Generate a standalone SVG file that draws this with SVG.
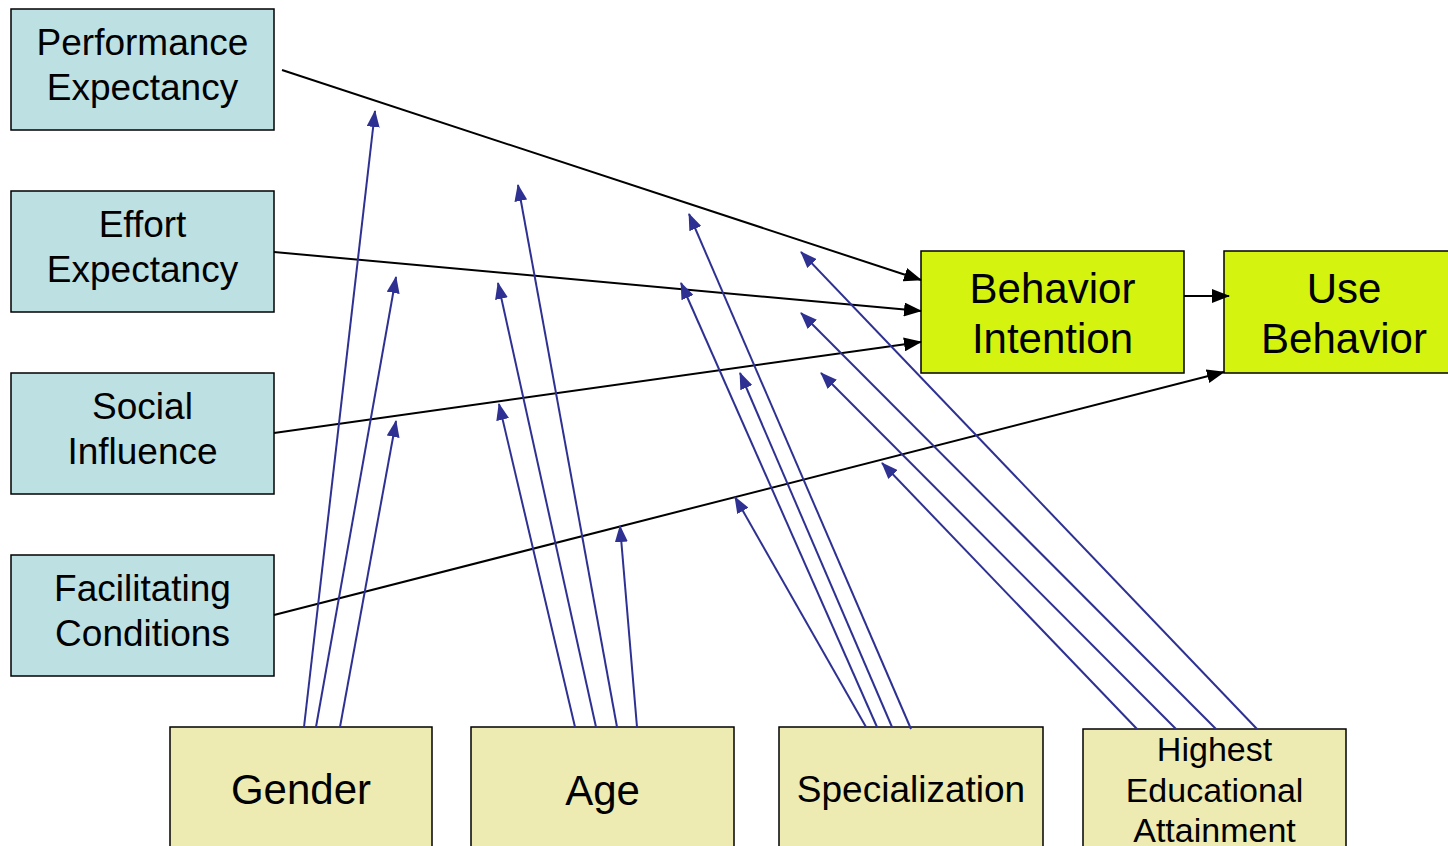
<svg xmlns="http://www.w3.org/2000/svg" width="1448" height="846" viewBox="0 0 1448 846">
<style>
.c{fill:#BDE1E3;stroke:#000;stroke-width:1.5}
.g{fill:#D4F410;stroke:#000;stroke-width:1.5}
.m{fill:#EDEBB1;stroke:#000;stroke-width:1.5}
text{font-family:"Liberation Sans",Arial,sans-serif;fill:#000;text-anchor:middle}
.k{stroke:#000;stroke-width:2;fill:none;marker-end:url(#ak)}
.b{stroke:#2E3192;stroke-width:2;fill:none;marker-end:url(#ab)}
</style>
<defs>
<marker id="ak" viewBox="0 0 18 14" refX="17" refY="7" markerWidth="18" markerHeight="14" markerUnits="userSpaceOnUse" orient="auto"><path d="M0,0 L18,7 L0,14 Z" fill="#000"/></marker>
<marker id="ab" viewBox="0 0 17 13" refX="16" refY="6.5" markerWidth="17" markerHeight="13" markerUnits="userSpaceOnUse" orient="auto"><path d="M0,0 L17,6.5 L0,13 Z" fill="#2E3192"/></marker>
</defs>
<rect width="1448" height="846" fill="#fff"/>
<g id="pe"><rect class="c" x="11" y="9" width="263" height="121"/><text font-size="37" x="142.5" y="55">Performance</text><text font-size="37" x="142.5" y="100">Expectancy</text></g>
<g id="ee"><rect class="c" x="11" y="191" width="263" height="121"/><text font-size="37" x="142.5" y="237">Effort</text><text font-size="37" x="142.5" y="282">Expectancy</text></g>
<g id="si"><rect class="c" x="11" y="373" width="263" height="121"/><text font-size="37" x="142.5" y="419">Social</text><text font-size="37" x="142.5" y="464">Influence</text></g>
<g id="fc"><rect class="c" x="11" y="555" width="263" height="121"/><text font-size="37" x="142.5" y="601">Facilitating</text><text font-size="37" x="142.5" y="646">Conditions</text></g>
<g id="bi"><rect class="g" x="921" y="251" width="263" height="122"/><text font-size="42" x="1052.5" y="303">Behavior</text><text font-size="42" x="1052.5" y="353">Intention</text></g>
<g id="ub"><rect class="g" x="1224" y="251" width="240" height="122"/><text font-size="42" x="1344" y="303">Use</text><text font-size="42" x="1344" y="353">Behavior</text></g>
<g id="gender"><rect class="m" x="170" y="727" width="262" height="140"/><text font-size="42" x="301" y="804">Gender</text></g>
<g id="age"><rect class="m" x="471" y="727" width="263" height="140"/><text font-size="42" x="602.5" y="805">Age</text></g>
<g id="spec"><rect class="m" x="779" y="727" width="264" height="140"/><text font-size="37" x="911" y="802">Specialization</text></g>
<g id="hea"><rect class="m" x="1083" y="729" width="263" height="140"/><text font-size="34" x="1214.5" y="761">Highest</text><text font-size="34" x="1214.5" y="802">Educational</text><text font-size="34" x="1214.5" y="842">Attainment</text></g>
<g id="connectors">
<line class="k" x1="282" y1="70" x2="921" y2="280"/>
<line class="k" x1="274" y1="252" x2="921" y2="311"/>
<line class="k" x1="274" y1="433" x2="921" y2="342"/>
<line class="k" x1="274" y1="615" x2="1224" y2="372"/>
<line class="k" x1="1184" y1="296" x2="1229" y2="296"/>
<line class="b" x1="304" y1="727" x2="375" y2="111"/>
<line class="b" x1="316" y1="727" x2="396" y2="277"/>
<line class="b" x1="340" y1="727" x2="396" y2="421"/>
<line class="b" x1="575" y1="727" x2="499" y2="404"/>
<line class="b" x1="596" y1="727" x2="498" y2="283"/>
<line class="b" x1="617" y1="727" x2="518" y2="185"/>
<line class="b" x1="637" y1="727" x2="620" y2="526"/>
<line class="b" x1="866" y1="727" x2="735" y2="497"/>
<line class="b" x1="877" y1="727" x2="681" y2="283"/>
<line class="b" x1="892" y1="727" x2="740" y2="373"/>
<line class="b" x1="911" y1="729" x2="689" y2="214"/>
<line class="b" x1="1137" y1="729" x2="882" y2="463"/>
<line class="b" x1="1176" y1="729" x2="821" y2="373"/>
<line class="b" x1="1216" y1="729" x2="801" y2="313"/>
<line class="b" x1="1257" y1="729" x2="801" y2="252"/>
</g>
</svg>
